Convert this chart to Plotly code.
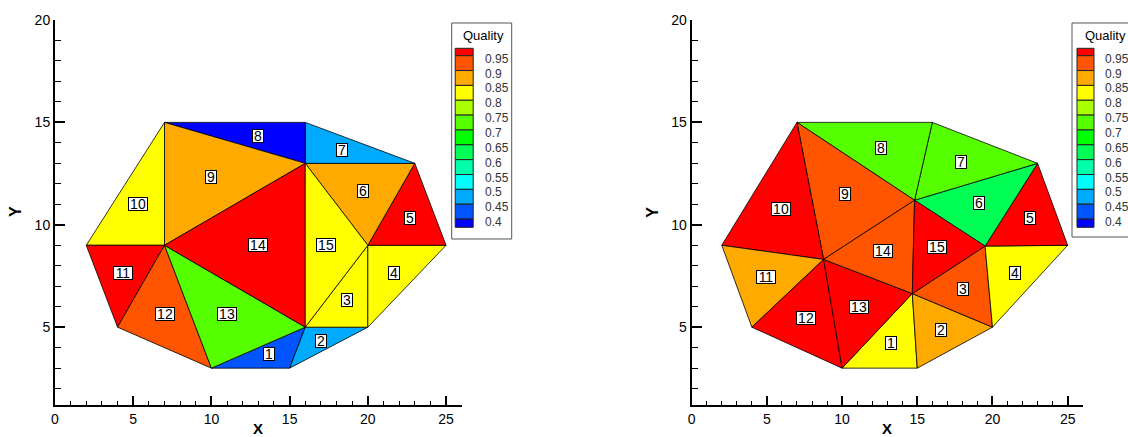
import plotly.graph_objects as go

# ---------------- data ----------------
# left mesh node coordinates
left_nodes_x = [2, 4, 7, 7, 10, 15, 16, 16, 16, 20, 20, 23, 25]
left_nodes_y = [9, 5, 15, 9, 3, 3, 15, 13, 5, 5, 9, 13, 9]
# triangles (node indices), element numbers 1..15
left_tris = [
    (4, 5, 8), (5, 8, 9), (8, 9, 10), (9, 10, 12), (10, 12, 11),
    (10, 11, 7), (7, 11, 6), (2, 6, 7), (2, 7, 3), (0, 2, 3),
    (0, 3, 1), (1, 3, 4), (3, 4, 8), (3, 7, 8), (7, 10, 8),
]
left_quality = [0.42, 0.47, 0.82, 0.83, 0.97, 0.87, 0.48, 0.37,
                0.88, 0.84, 0.96, 0.92, 0.72, 0.98, 0.81]

# right (smoothed) mesh
right_nodes_x = [2, 4, 7, 16, 23, 25, 20, 15, 10, 8.77, 14.82, 14.67, 19.51]
right_nodes_y = [9, 5, 15, 15, 13, 9, 5, 3, 3, 8.31, 11.2, 6.64, 8.96]
right_tris = [
    (8, 7, 11), (7, 6, 11), (11, 6, 12), (6, 12, 5), (12, 5, 4),
    (12, 4, 10), (10, 4, 3), (2, 3, 10), (2, 10, 9), (0, 2, 9),
    (0, 9, 1), (1, 9, 8), (9, 8, 11), (9, 11, 10), (10, 11, 12),
]
right_quality = [0.83, 0.88, 0.91, 0.82, 0.96, 0.62, 0.73, 0.74,
                 0.93, 0.97, 0.87, 0.96, 0.97, 0.92, 0.96]

levels = [0.4, 0.45, 0.5, 0.55, 0.6, 0.65, 0.7, 0.75, 0.8, 0.85, 0.9, 0.95]
level_labels = ["0.4", "0.45", "0.5", "0.55", "0.6", "0.65", "0.7",
                "0.75", "0.8", "0.85", "0.9", "0.95"]
band_colors = ["#0000FF", "#0055FF", "#00AAFF", "#00FFFF", "#00FFAA",
               "#00FF55", "#00FF00", "#55FF00", "#AAFF00", "#FFFF00",
               "#FFAA00", "#FF5500", "#FF0000"]

W, H = 1128, 437
FONT = "Arial, Liberation Sans, Helvetica, sans-serif"


def color_of(q):
    i = 0
    for lv in levels:
        if q >= lv:
            i += 1
    return band_colors[i]


def px(x):
    return x / W


def py(y):
    return 1 - y / H


fig = go.Figure()
annotations = []


def add_mesh(nx, ny, tris, qual, xa, ya):
    for k, (tri, q) in enumerate(zip(tris, qual)):
        xs = [nx[i] for i in tri] + [nx[tri[0]]]
        ys = [ny[i] for i in tri] + [ny[tri[0]]]
        fig.add_trace(go.Scatter(
            x=xs, y=ys, xaxis=xa, yaxis=ya, mode="lines",
            fill="toself", fillcolor=color_of(q),
            line=dict(color="black", width=0.8),
            hoverinfo="text", text="Element %d: %.2f" % (k + 1, q),
            showlegend=False))
        cx = sum(nx[i] for i in tri) / 3
        cy = sum(ny[i] for i in tri) / 3
        lab = str(k + 1)
        annotations.append(dict(
            x=cx, y=cy, xref=xa, yref=ya, text=lab, showarrow=False,
            width=10 if len(lab) == 1 else 18, height=12,
            bgcolor="white", bordercolor="black", borderwidth=1, borderpad=0,
            font=dict(family=FONT, size=14, color="black")))


add_mesh(left_nodes_x, left_nodes_y, left_tris, left_quality, "x", "y")
add_mesh(right_nodes_x, right_nodes_y, right_tris, right_quality, "x2", "y2")

# ---------------- axes ----------------
YTOP, YBOT = 20, 405
ydom = [py(YBOT), py(YTOP)]
xdoms = [[px(55), px(461.7)], [px(691.7), px(1082.7)]]

axis_common = dict(
    showgrid=False, zeroline=False, showline=True, linecolor="black",
    linewidth=2, ticks="inside", tickcolor="black", tickwidth=2,
    tickfont=dict(family=FONT, size=14, color="black"), dtick=5, tick0=0,
    automargin=False,
)

shapes = []
for j, dom in enumerate(xdoms):
    sfx = "" if j == 0 else str(j + 1)
    fig.update_layout(**{
        "xaxis" + sfx: dict(axis_common, domain=dom, range=[0, 26],
                            anchor="y" + sfx, ticklen=9,
                            minor=dict(dtick=1, tick0=0, ticklen=4,
                                       tickwidth=1, tickcolor="black",
                                       ticks="inside", showgrid=False)),
        "yaxis" + sfx: dict(axis_common, domain=ydom, range=[1.2, 20],
                            anchor="x" + sfx, ticklen=10,
                            minor=dict(dtick=1, tick0=0, ticklen=6,
                                       tickwidth=1, tickcolor="black",
                                       ticks="inside", showgrid=False)),
    })
    x0p = 55 if j == 0 else 691.7
    x1p = 461.7 if j == 0 else 1082.7
    # axis titles
    annotations.append(dict(
        x=px((x0p + x1p) / 2), y=py(428), xref="paper", yref="paper",
        text="<b>X</b>", showarrow=False, xanchor="center", yanchor="middle",
        font=dict(family=FONT, size=15, color="black")))
    annotations.append(dict(
        x=px(x0p - 40), y=py(212), xref="paper", yref="paper",
        text="<b>Y</b>", showarrow=False, textangle=-90,
        xanchor="center", yanchor="middle",
        font=dict(family=FONT, size=16, color="black")))

    # ---------------- legend box ----------------
    fl = 451.7 if j == 0 else 1072
    fr = 511.7 if j == 0 else 1135
    ft, fb = 23, 239 if j == 0 else 237
    shapes.append(dict(type="rect", xref="paper", yref="paper",
                       x0=px(fl), x1=px(fr), y0=py(fb), y1=py(ft),
                       line=dict(color="#555555", width=1),
                       fillcolor="white", layer="above"))
    annotations.append(dict(
        x=px(fl + 31.5 if j == 0 else 1105.5), y=py(36), xref="paper",
        yref="paper", text="Quality", showarrow=False,
        xanchor="center", yanchor="middle",
        font=dict(family=FONT, size=13, color="black")))
    bx0 = fl + 3.5 if j == 0 else fl + 5
    bx1 = bx0 + 18 if j == 0 else bx0 + 17
    step = 14.85
    top_first = 48.3
    bounds = [top_first, 55.7] + [55.7 + step * (i + 1) for i in range(11)] + [227.3]
    # boxes from top (red) to bottom (blue)
    for b in range(13):
        col = band_colors[12 - b]
        shapes.append(dict(type="rect", xref="paper", yref="paper",
                           x0=px(bx0), x1=px(bx1),
                           y0=py(bounds[b + 1]), y1=py(bounds[b]),
                           line=dict(color="#222222", width=1),
                           fillcolor=col, layer="above"))
    lx = fl + 31
    for i in range(12):
        lab = level_labels[11 - i]
        yb = bounds[i + 1]
        annotations.append(dict(
            x=px(lx), y=py(yb + 3), xref="paper", yref="paper",
            text=lab, showarrow=False, xanchor="left", yanchor="middle",
            font=dict(family=FONT, size=12, color="#333333")))

fig.update_layout(
    width=W, height=H, margin=dict(l=0, r=0, t=0, b=0, pad=0,
                                   autoexpand=False),
    paper_bgcolor="white", plot_bgcolor="white",
    annotations=annotations, shapes=shapes, showlegend=False,
)

fig.write_html(
    "out.html",
    config={"displayModeBar": False},
    post_script=(
        "document.documentElement.style.margin='0';"
        "document.documentElement.style.padding='0';"
        "document.documentElement.style.overflow='hidden';"
        "document.body.style.margin='0';"
        "document.body.style.padding='0';"
        "document.body.style.overflow='hidden';"
    ),
)
